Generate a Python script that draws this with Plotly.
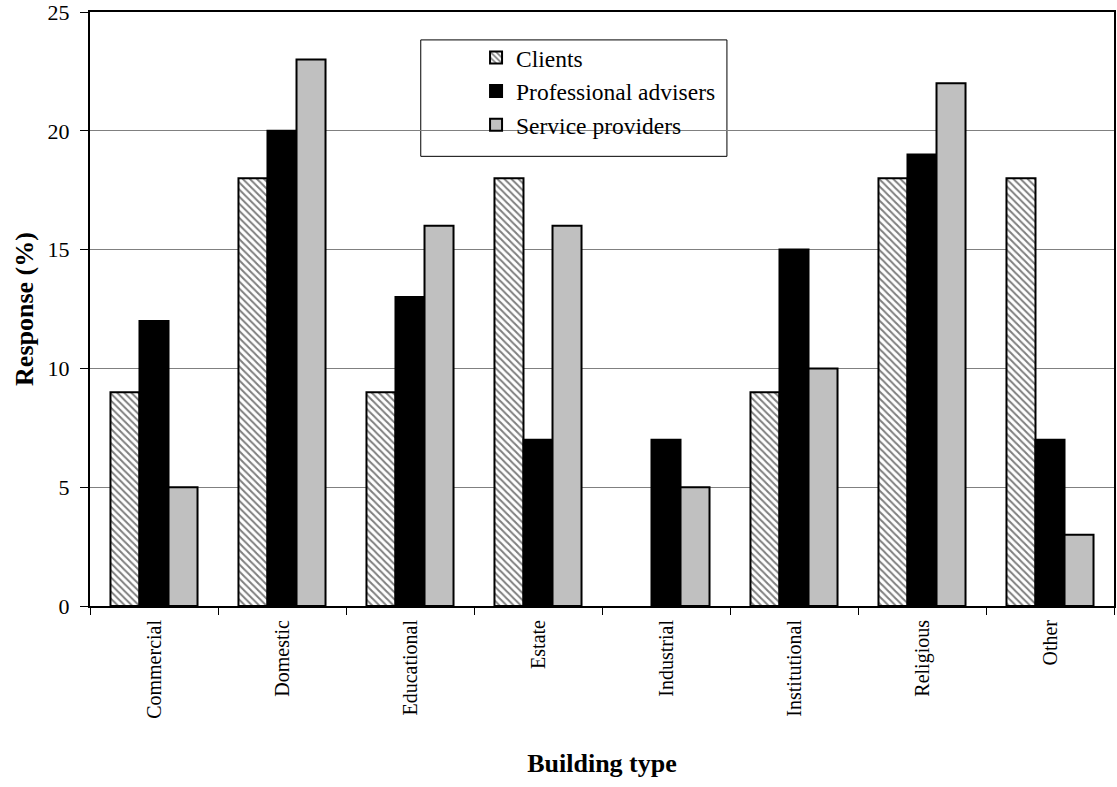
import plotly.graph_objects as go

categories = ["Commercial", "Domestic", "Educational", "Estate",
              "Industrial", "Institutional", "Religious", "Other"]
clients = [9, 18, 9, 18, 0, 9, 18, 18]
professional_advisers = [12, 20, 13, 7, 7, 15, 19, 7]
service_providers = [5, 23, 16, 16, 5, 10, 22, 3]

FONT = "Liberation Serif"


def outline_widths(values):
    # no outline for empty bars so a zero value leaves no mark
    return [2 if v else 0 for v in values]


fig = go.Figure()
fig.add_bar(
    name="Clients", x=categories, y=clients, legendgroup="a",
    marker=dict(color="white",
                line=dict(color="black", width=outline_widths(clients)),
                pattern=dict(shape="\\", fgcolor="black", bgcolor="white",
                             size=5, solidity=0.4)),
)
fig.add_bar(
    name="Professional advisers", x=categories, y=professional_advisers,
    legendgroup="b",
    marker=dict(color="black",
                line=dict(color="black", width=outline_widths(professional_advisers))),
)
fig.add_bar(
    name="Service providers", x=categories, y=service_providers,
    legendgroup="c",
    marker=dict(color="#c0c0c0",
                line=dict(color="black", width=outline_widths(service_providers))),
)

# framed white panel behind the legend entries
fig.add_shape(
    type="rect", xref="paper", yref="paper",
    x0=0.323, x1=0.622, y0=0.757, y1=0.953,
    line=dict(color="black", width=1), fillcolor="white", layer="between",
)

fig.update_layout(
    width=1117, height=787,
    margin=dict(l=90, r=3, t=12, b=181),
    paper_bgcolor="white", plot_bgcolor="white",
    barmode="group", bargap=0.32, bargroupgap=0,
    font=dict(family=FONT, size=19, color="black"),
    legend=dict(
        x=0.377, y=0.960, xanchor="left", yanchor="top",
        borderwidth=0, bgcolor="rgba(0,0,0,0)",
        font=dict(family=FONT, size=23.5, color="black"),
        tracegroupgap=12, traceorder="normal", itemwidth=30,
    ),
    showlegend=True,
)
fig.update_xaxes(
    type="category", tickangle=-90, tickson="boundaries",
    ticks="outside", ticklen=7, tickcolor="black", ticklabelstandoff=4,
    showline=True, linecolor="black", linewidth=2, mirror=True,
    automargin=False,
    title=dict(text="<b>Building type</b>", font=dict(family=FONT, size=26), standoff=36),
    tickfont=dict(family=FONT, size=20),
)
fig.update_yaxes(
    range=[0, 25], dtick=5, ticks="outside", ticklen=8, tickcolor="black",
    ticklabelstandoff=6, ticklabeloverflow="allow", automargin=False,
    showline=True, linecolor="black", linewidth=2, mirror=True,
    showgrid=True, gridcolor="#808080", gridwidth=1,
    title=dict(text="<b>Response (%)</b>", font=dict(family=FONT, size=26), standoff=6),
    tickfont=dict(family=FONT, size=22), zeroline=False,
)

fig.write_html("out.html")
